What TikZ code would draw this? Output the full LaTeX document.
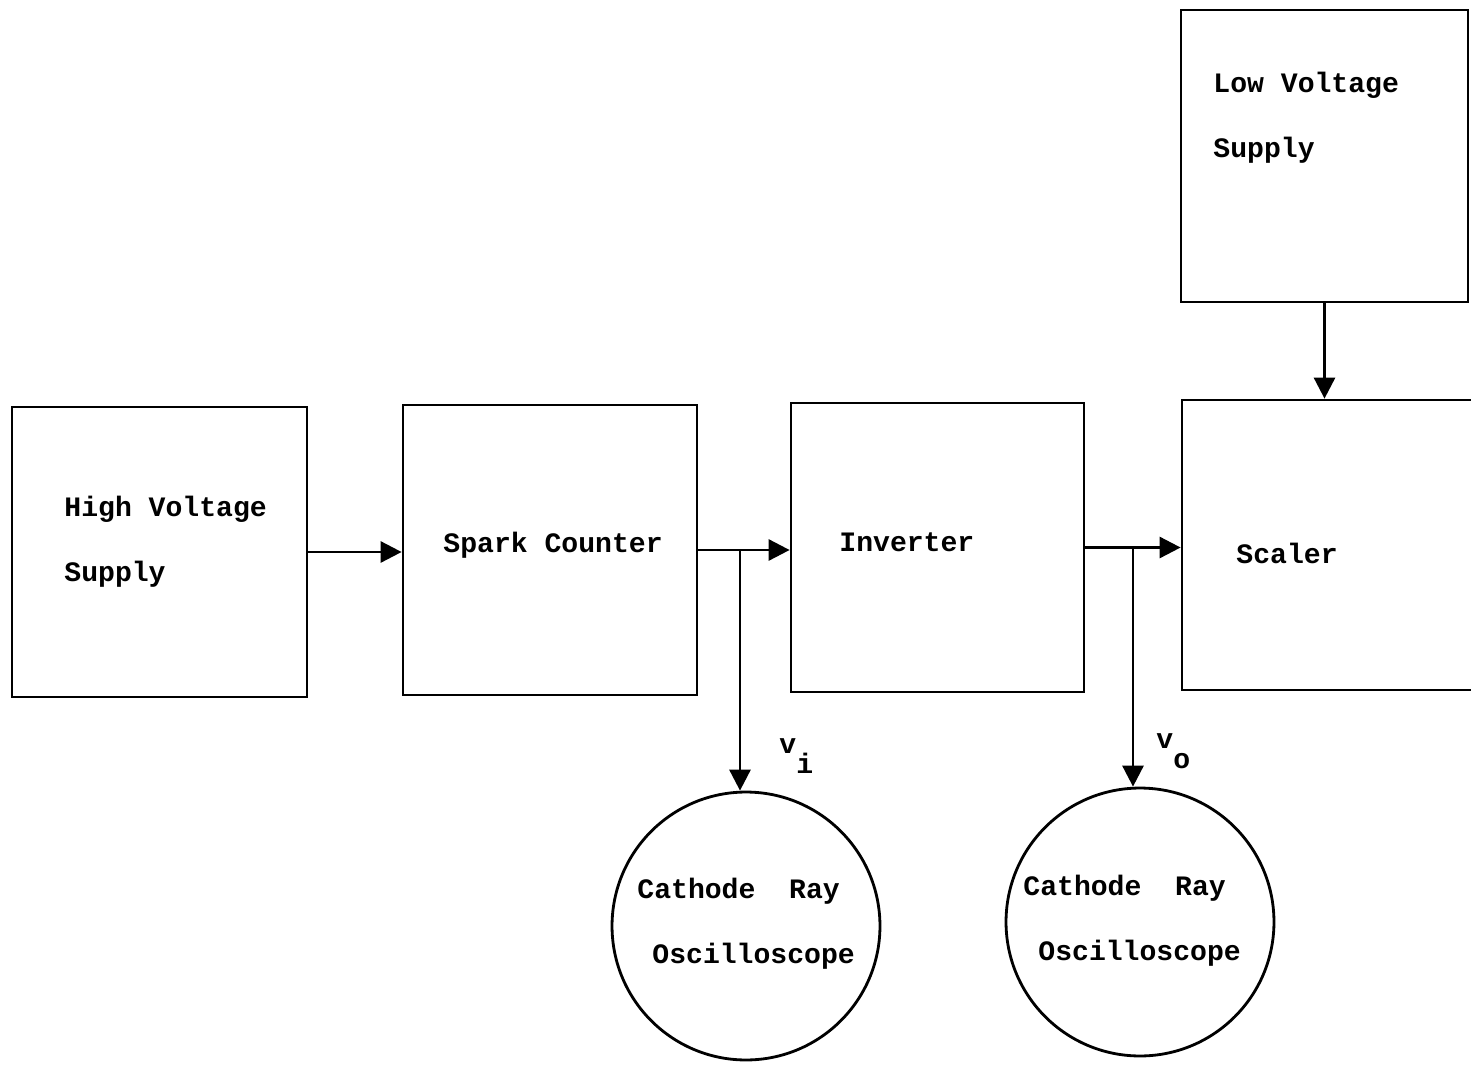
\documentclass[tikz,border=0pt]{standalone}
\usepackage{fontspec}
\setmonofont{Liberation Mono}
\usetikzlibrary{arrows.meta}
\begin{document}
\begin{tikzpicture}[x=0.02cm, y=-0.02cm, >={Triangle[length=0.42cm,width=0.42cm]}, line width=1.6pt]
        \tikzstyle{block}=[draw, shape=rectangle, inner sep=0pt]
        \tikzstyle{crt}=[draw, shape=circle, inner sep=0pt, minimum size=5.36cm]
        \tikzstyle{txt}=[inner sep=0pt, align=left, font=\fontsize{16}{37}\selectfont\ttfamily\bfseries]

        \useasboundingbox (0,0) rectangle (1471,1065);

        \node[block, minimum width=5.9cm, minimum height=5.8cm](hv) at (159.5,552){};
        \node[block, minimum width=5.88cm, minimum height=5.8cm](spark) at (550,550){};
        \node[block, minimum width=5.86cm, minimum height=5.78cm](inv) at (937.5,547.5){};
        \node[block, minimum width=6cm, minimum height=5.8cm](scaler) at (1332,545){};
        \node[block, minimum width=5.74cm, minimum height=5.84cm](lv) at (1324.5,156){};
        \node[crt](cro1) at (746,926){};
        \node[crt](cro2) at (1140,922){};

        \node[txt, anchor=west](hvtext) at (63,542){High Voltage\\Supply};
        \node[txt, anchor=west](sparktext) at (442,545){Spark Counter};
        \node[txt, anchor=west](invtext) at (838,542){Inverter};
        \node[txt, anchor=west](scalertext) at (1235,553){Scaler};
        \node[txt, anchor=west](lvtext) at (1212,118){Low Voltage\\Supply};
        \node[txt, anchor=west](cro1text) at (636,924){Cathode~~Ray\\\hspace*{0.3cm}Oscilloscope};
        \node[txt, anchor=west](cro2text) at (1022,921){Cathode~~Ray\\\hspace*{0.3cm}Oscilloscope};
        \node[txt, anchor=base west](vi) at (778,753){v\raisebox{-0.4cm}{i}};
        \node[txt, anchor=base west](vo) at (1155,748){v\raisebox{-0.4cm}{o}};

        \coordinate (j1) at (740,550);
        \coordinate (j2) at (1133,547.5);

        \draw[->] (hv.east) -- (hv.east -| spark.west);
        \draw[->] (spark.east) -- (spark.east -| inv.west);
        \draw[->] (inv.east) -- (inv.east -| scaler.west);
        \draw[->] (lv.south) -- (lv.south |- scaler.north);
        \draw[->] (j1) -- (j1 |- cro1.north);
        \draw[->] (j2) -- (j2 |- cro2.north);

        \end{tikzpicture}
\end{document}
